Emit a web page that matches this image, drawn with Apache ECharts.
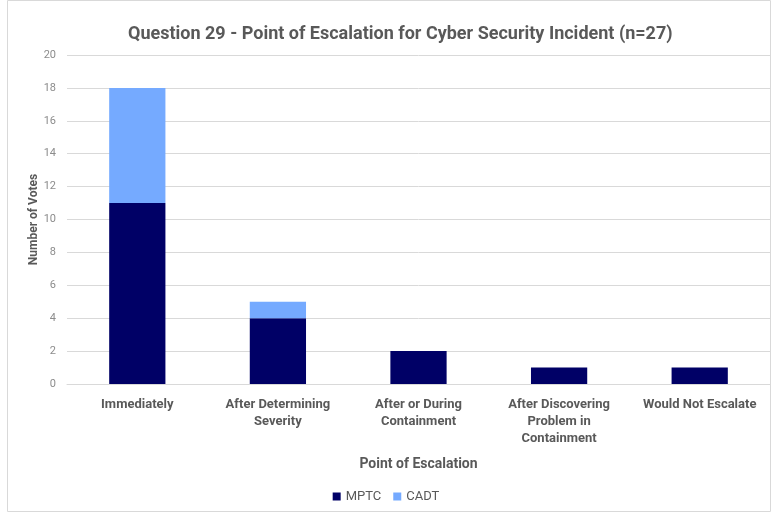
<!DOCTYPE html>
<html>
<head>
<meta charset="utf-8">
<script src="https://cdn.jsdelivr.net/npm/echarts@6/dist/echarts.min.js"></script>
<style>
  html, body { margin: 0; padding: 0; background: #fff; }
  #chart { width: 772px; height: 513px; }
</style>
</head>
<body>
<div id="chart"></div>
<script>
// Responses per escalation point, split by respondent group
const categories = [
  'Immediately',
  'After Determining\nSeverity',
  'After or During\nContainment',
  'After Discovering\nProblem in\nContainment',
  'Would Not Escalate'
];
const mptcVotes = [11, 4, 2, 1, 1];
const cadtVotes = [7, 1, 0, 0, 0];
const yTicks = { min: 0, max: 20, interval: 2 };

const chart = echarts.init(document.getElementById('chart'));
const font = 'Roboto, "DejaVu Sans", sans-serif';
const textGray = '#595959';

chart.setOption({
  animation: false,
  graphic: [{
    type: 'rect',
    shape: { x: 7.5, y: 0.5, width: 763, height: 511 },
    style: { fill: 'none', stroke: '#d9d9d9', lineWidth: 1 },
    silent: true
  }],
  title: {
    text: 'Question 29 - Point of Escalation for Cyber Security Incident (n=27)',
    left: 123,
    top: 20,
    textStyle: { fontFamily: font, fontSize: 18, fontWeight: 'bold', color: textGray }
  },
  legend: {
    bottom: 5,
    left: 'center',
    itemWidth: 8,
    itemHeight: 8,
    itemGap: 12,
    icon: 'rect',
    textStyle: { fontFamily: font, fontSize: 13, color: textGray }
  },
  grid: { left: 67, right: 2, top: 55, bottom: 129 },
  xAxis: {
    type: 'category',
    data: categories,
    name: 'Point of Escalation',
    nameLocation: 'middle',
    nameGap: 73,
    nameTextStyle: { fontFamily: font, fontSize: 14, fontWeight: 'bold', color: textGray },
    axisLine: { lineStyle: { color: '#d9d9d9' } },
    axisTick: { show: false },
    axisLabel: {
      interval: 0,
      margin: 12,
      fontFamily: font,
      fontSize: 13,
      fontWeight: 'bold',
      color: textGray,
      lineHeight: 17
    }
  },
  yAxis: {
    type: 'value',
    min: yTicks.min,
    max: yTicks.max,
    interval: yTicks.interval,
    name: 'Number of Votes',
    nameLocation: 'middle',
    nameGap: 27,
    nameMoveOverlap: false,
    nameTextStyle: { fontFamily: font, fontSize: 12, fontWeight: 'bold', color: textGray },
    axisLine: { show: false },
    axisTick: { show: false },
    axisLabel: { fontFamily: font, fontSize: 11, color: '#8c8c8c', margin: 11 },
    splitLine: { lineStyle: { color: '#d9d9d9' } }
  },
  series: [
    {
      name: 'MPTC',
      type: 'bar',
      stack: 'votes',
      data: mptcVotes,
      barWidth: '40%',
      itemStyle: { color: '#000066' }
    },
    {
      name: 'CADT',
      type: 'bar',
      stack: 'votes',
      data: cadtVotes,
      barWidth: '40%',
      itemStyle: { color: '#75aaff' }
    }
  ]
});
</script>
</body>
</html>
